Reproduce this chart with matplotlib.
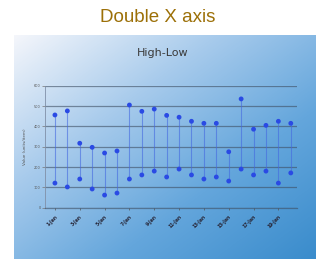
import numpy as np
import matplotlib
matplotlib.use('Agg')
import matplotlib.pyplot as plt
from matplotlib.colors import LinearSegmentedColormap

# High-low values
highs = [456, 476, 317, 297, 269, 279, 505, 474, 485, 454,
         445, 425, 415, 415, 275, 535, 386, 405, 425, 415]
lows = [121, 102, 141, 92, 62, 72, 141, 161, 180, 151,
        190, 161, 141, 151, 131, 190, 161, 180, 121, 171]
x_labels = ['1-Jan', '3-Jan', '5-Jan', '7-Jan', '9-Jan',
            '11-Jan', '13-Jan', '15-Jan', '17-Jan', '19-Jan']
y_ticks = [0, 100, 200, 300, 400, 500, 600]

W, H = 316, 259
fig = plt.figure(figsize=(W / 100, H / 100), dpi=100)
fig.patch.set_facecolor('white')

# page title
fig.text(158 / W, 1 - 18 / H, 'Double X axis', ha='center', va='center',
         fontsize=13.5, color='#9c7008', family='Liberation Sans')

# gradient panel behind the chart
bg = fig.add_axes([14 / W, 0, (W - 14) / W, (H - 35) / H])
bg.set_axis_off()
gx, gy = np.meshgrid(np.linspace(0, 1, 200), np.linspace(0, 1, 200))
grad = (gx * 0.5 + gy * 0.5)
cmap = LinearSegmentedColormap.from_list(
    'bg', ['#f4f6fb', '#a8cbec', '#64a6dc', '#3a8ccc'])
bg.imshow(grad, cmap=cmap, aspect='auto', extent=[0, 1, 0, 1], origin='upper')
bg.set_xlim(0, 1)
bg.set_ylim(0, 1)

# chart title
fig.text(163 / W, 1 - 53 / H, 'High-Low', ha='center', va='center',
         fontsize=8, color='#3a3a3a')

# plot area
ax = fig.add_axes([45 / W, 1 - 207.7 / H, (297 - 45) / W, (207.7 - 85.7) / H])
ax.patch.set_alpha(0)
idx = np.arange(len(highs))
ax.vlines(idx, lows, highs, color='#4468e0', lw=0.8, alpha=0.6, zorder=3)
ax.scatter(idx, highs, s=12, color='#2a4ae4', zorder=4, edgecolors='none')
ax.scatter(idx, lows, s=12, color='#2a4ae4', zorder=4, edgecolors='none')

ax.set_xlim(-0.8, 19.5)
ax.set_ylim(0, 600)
ax.set_yticks(y_ticks)
ax.set_yticklabels([str(v) for v in y_ticks], fontsize=2.5, color='#555555')
ax.yaxis.grid(True, color='#3e4e62', lw=0.9, alpha=0.6)
ax.set_axisbelow(True)
ax.tick_params(axis='y', length=2, width=0.5, pad=1, color='#777777')
ax.set_xticks(idx[::2])
ax.set_xticklabels(x_labels, rotation=45, ha='right', rotation_mode='anchor',
                   fontsize=3.3, color='#28283a', fontweight='bold')
ax.tick_params(axis='x', length=1.5, width=0.5, pad=3, color='#555555')
ax.set_ylabel('Value (units/item)', fontsize=3, color='#555555', labelpad=5)
for s in ['top', 'right']:
    ax.spines[s].set_visible(False)
ax.spines['left'].set_color('#8090a8')
ax.spines['left'].set_linewidth(0.6)
ax.spines['bottom'].set_color('#3e4e62')
ax.spines['bottom'].set_linewidth(0.9)
ax.spines['bottom'].set_alpha(0.6)

fig.savefig('out.png', dpi=100)
